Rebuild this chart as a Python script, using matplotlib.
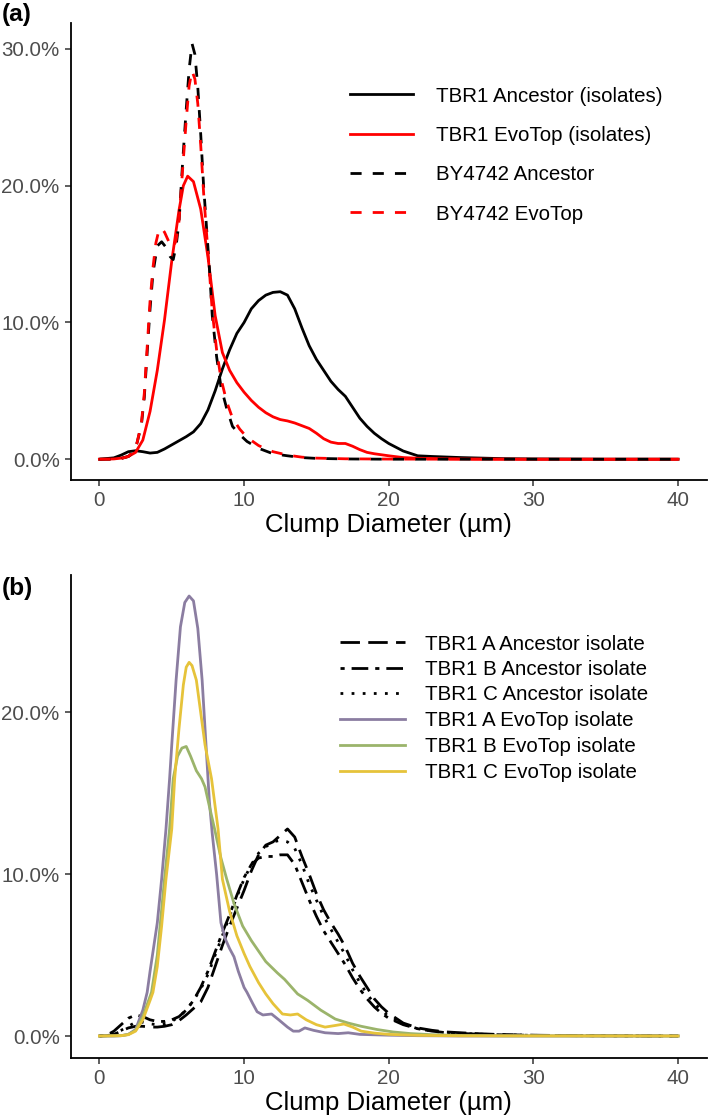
import matplotlib
matplotlib.use("Agg")
import matplotlib.pyplot as plt
from matplotlib.lines import Line2D
from matplotlib.ticker import FuncFormatter

plt.rcParams['font.family'] = ['Liberation Sans', 'DejaVu Sans']

# ---------------- Panel (a) data (percent of clumps) ----------------
a_tbr1_anc_x = [0, 1, 1.5, 2, 2.5, 3, 3.5, 4, 4.5, 5, 5.5, 6, 6.5, 7, 7.5, 8, 8.5, 9, 9.5, 10,
                10.5, 11, 11.5, 12, 12.5, 13, 13.5, 14, 14.5, 15, 15.5, 16, 16.5, 17, 17.5, 18,
                18.5, 19, 19.5, 20, 21, 22, 23, 25, 28, 30, 35, 40]
a_tbr1_anc_y = [0, 0.1, 0.3, 0.55, 0.62, 0.55, 0.45, 0.5, 0.75, 1.05, 1.35, 1.65, 2.0, 2.6, 3.6, 5.0,
                6.6, 8.0, 9.2, 10.0, 11.0, 11.6, 12.0, 12.2, 12.25, 12.0, 11.0, 9.6, 8.3, 7.3, 6.5,
                5.7, 5.1, 4.6, 3.8, 3.0, 2.4, 1.9, 1.5, 1.15, 0.6, 0.25, 0.2, 0.12, 0.04, 0.02, 0, 0]

a_tbr1_evo_x = [0, 1, 1.5, 2, 2.5, 3, 3.5, 4, 4.5, 5, 5.5, 5.8, 6.1, 6.5, 7, 7.5, 8, 8.5, 9, 9.5,
                10, 10.5, 11, 11.5, 12, 12.5, 13, 13.5, 14, 14.5, 15, 15.5, 16, 16.5, 17, 17.5,
                18, 18.5, 19, 20, 21, 22, 24, 26, 30, 40]
a_tbr1_evo_y = [0, 0.02, 0.08, 0.2, 0.5, 1.4, 3.5, 6.5, 10.2, 14.5, 18.2, 20.0, 20.7, 20.3, 18.3,
                14.8, 10.5, 7.8, 6.5, 5.6, 4.9, 4.3, 3.8, 3.4, 3.1, 2.9, 2.8, 2.65, 2.45, 2.25, 1.9,
                1.5, 1.25, 1.15, 1.15, 0.95, 0.7, 0.5, 0.4, 0.25, 0.12, 0.07, 0.03, 0.01, 0, 0]

a_by_anc_x = [0, 1, 1.5, 2, 2.3, 2.6, 2.9, 3.1, 3.3, 3.5, 3.7, 4.0, 4.3, 4.6, 4.9, 5.1, 5.3, 5.5,
              5.75, 6.0, 6.2, 6.4, 6.6, 6.8, 7.0, 7.2, 7.4, 7.6, 7.8, 8.1, 8.4, 8.8, 9.2, 9.7,
              10.2, 11, 11.5, 12, 13, 14, 15, 17, 20, 25, 30, 40]
a_by_anc_y = [0, 0, 0.05, 0.2, 0.5, 1.2, 2.5, 4.5, 7.8, 11.0, 13.6, 15.6, 15.9, 15.5, 14.8, 14.6,
              15.6, 17.3, 21.7, 25.6, 28.5, 30.4, 29.6, 27.2, 23.8, 20.0, 17.0, 14.0, 10.5, 7.5,
              5.3, 3.7, 2.4, 1.8, 1.3, 0.8, 0.6, 0.4, 0.25, 0.12, 0.06, 0.02, 0, 0, 0, 0]

a_by_evo_x = [0, 1, 1.5, 2, 2.3, 2.6, 2.9, 3.1, 3.3, 3.5, 3.7, 3.9, 4.1, 4.3, 4.5, 4.8, 5.1, 5.3,
              5.5, 5.75, 6.0, 6.2, 6.4, 6.6, 6.8, 7.0, 7.2, 7.4, 7.6, 7.8, 8.1, 8.4, 8.8, 9.2,
              9.7, 10.2, 11, 11.5, 12, 13, 14, 15, 17, 20, 25, 30, 40]
a_by_evo_y = [0, 0, 0.05, 0.2, 0.5, 1.2, 2.6, 4.8, 8.2, 11.6, 14.0, 15.8, 16.7, 16.9, 16.6, 15.9,
              15.5, 16.0, 17.4, 21.2, 24.8, 27.3, 28.4, 27.8, 26.0, 23.0, 19.5, 16.6, 13.8, 10.8,
              8.0, 5.9, 4.2, 3.0, 2.2, 1.6, 1.0, 0.75, 0.55, 0.3, 0.15, 0.08, 0.03, 0.01, 0, 0, 0]

a_labels = ["TBR1 Ancestor (isolates)", "TBR1 EvoTop (isolates)", "BY4742 Ancestor", "BY4742 EvoTop"]

# ---------------- Panel (b) data ----------------
b_anc_x = [0, 0.5, 1, 1.5, 2, 2.5, 3, 3.5, 4, 4.5, 5, 5.5, 6, 6.5, 7, 7.5, 8, 8.5, 9, 9.5, 10,
           10.5, 11, 11.5, 12, 12.5, 13, 13.5, 14, 14.5, 15, 15.5, 16, 16.5, 17, 17.5, 18, 18.5,
           19, 19.5, 20, 21, 22, 23, 24, 26, 28, 30, 33, 40]
b_anc_a_y = [0, 0.02, 0.1, 0.3, 0.5, 0.6, 0.6, 0.55, 0.55, 0.6, 0.7, 0.95, 1.3, 1.7, 2.1, 3.0,
             4.3, 5.6, 6.8, 7.9, 9.0, 10.2, 11.2, 11.8, 12.0, 12.4, 12.8, 12.3, 11.1, 10.0, 8.8,
             7.8, 7.0, 6.3, 5.5, 4.5, 3.7, 3.0, 2.3, 1.8, 1.4, 0.8, 0.5, 0.35, 0.25, 0.15, 0.08,
             0.05, 0.02, 0]
b_anc_b_y = [0, 0.05, 0.3, 0.7, 1.1, 1.3, 1.2, 1.0, 0.9, 0.9, 1.0, 1.2, 1.6, 2.2, 3.0, 4.0, 5.2,
             6.4, 7.5, 8.7, 9.8, 10.6, 11.0, 11.1, 11.1, 11.2, 11.2, 10.6, 9.5, 8.4, 7.4, 6.5, 5.8,
             5.1, 4.4, 3.6, 2.9, 2.3, 1.8, 1.4, 1.1, 0.7, 0.45, 0.3, 0.2, 0.12, 0.07, 0.04, 0.02, 0]
b_anc_c_y = [0, 0.03, 0.15, 0.35, 0.6, 0.85, 0.85, 0.75, 0.7, 0.75, 0.9, 1.2, 1.6, 2.2, 2.9, 3.8,
             5.0, 6.2, 7.4, 8.6, 9.7, 10.6, 11.3, 11.7, 12.0, 12.1, 12.0, 11.6, 10.6, 9.4, 8.4,
             7.4, 6.6, 5.8, 5.0, 4.1, 3.3, 2.6, 2.0, 1.6, 1.2, 0.75, 0.45, 0.3, 0.2, 0.12, 0.07,
             0.04, 0.02, 0]

b_evo_a_x = [0, 1, 1.5, 2, 2.5, 3, 3.3, 3.5, 4, 4.3, 4.6, 4.85, 5.0, 5.3, 5.6, 5.9, 6.2, 6.5, 6.8,
             7.1, 7.4, 7.6, 7.8, 8.1, 8.4, 8.7, 9.0, 9.3, 9.6, 10.0, 10.2, 10.6, 10.9, 11.3, 11.9,
             12.4, 13.0, 13.4, 13.8, 14.2, 14.8, 15.6, 16.5, 17.2, 18, 20, 22, 25, 40]
b_evo_a_y = [0, 0, 0.02, 0.1, 0.4, 1.6, 2.7, 4.0, 7.0, 9.7, 12.8, 15.9, 18.0, 22.0, 25.3, 26.8,
             27.2, 26.9, 25.2, 22.0, 17.5, 14.5, 12.5, 10.0, 7.0, 6.0, 5.4, 4.9, 4.0, 3.0, 2.7,
             2.0, 1.5, 1.3, 1.36, 1.0, 0.55, 0.3, 0.3, 0.5, 0.35, 0.2, 0.15, 0.2, 0.1, 0.05, 0.02,
             0, 0]

b_evo_b_x = [0, 1.5, 2, 2.5, 3, 3.6, 4, 4.5, 4.85, 5.1, 5.4, 5.7, 6.0, 6.3, 6.7, 7.06, 7.3, 7.6,
             7.96, 8.4, 8.8, 9.3, 9.9, 10.5, 11.5, 12.3, 12.8, 13.1, 13.7, 14.4, 15.3, 16.3, 17.2,
             18.1, 19.2, 20.3, 21.5, 23, 25, 28, 40]
b_evo_b_y = [0, 0.02, 0.1, 0.35, 1.2, 2.7, 5.0, 9.7, 12.8, 15.9, 17.3, 17.8, 17.9, 17.3, 16.4,
             15.9, 15.4, 14.2, 12.8, 11.0, 9.7, 8.2, 6.8, 5.9, 4.6, 3.9, 3.5, 3.2, 2.6, 2.2, 1.6,
             1.05, 0.8, 0.6, 0.4, 0.25, 0.15, 0.08, 0.03, 0.01, 0]

b_evo_c_x = [0, 1.5, 2, 2.5, 3, 3.5, 3.7, 4, 4.3, 4.6, 5.0, 5.2, 5.5, 5.8, 6.0, 6.2, 6.4, 6.7,
             7.0, 7.3, 7.75, 8.2, 8.5, 9.0, 9.5, 10.0, 10.4, 11.0, 11.5, 12, 12.65, 13.2, 13.7,
             14.3, 15, 15.6, 16.3, 16.9, 17.5, 18.1, 19, 20, 22, 25, 40]
b_evo_c_y = [0, 0.02, 0.08, 0.3, 1.0, 2.2, 2.7, 4.3, 6.8, 9.7, 12.8, 15.9, 19.0, 21.7, 22.8, 23.1,
             22.9, 22.0, 20.0, 18.0, 15.9, 12.8, 9.7, 7.7, 6.2, 5.1, 4.3, 3.3, 2.6, 2.0, 1.36, 1.3,
             1.36, 1.0, 0.7, 0.55, 0.65, 0.74, 0.55, 0.3, 0.18, 0.1, 0.04, 0.01, 0]

b_labels = ["TBR1 A Ancestor isolate", "TBR1 B Ancestor isolate", "TBR1 C Ancestor isolate",
            "TBR1 A EvoTop isolate", "TBR1 B EvoTop isolate", "TBR1 C EvoTop isolate"]

x_ticks = [0, 10, 20, 30, 40]
a_yticks = [0, 10, 20, 30]
b_yticks = [0, 10, 20]
x_title = "Clump Diameter (µm)"

# ---------------- styles ----------------
LW = 2.0
SOLID = "-"
DASHED = (0, (4, 4))
LONGDASH = (0, (7, 3))
DOTDASH = (0, (1.5, 2.5, 6, 2.5))
DOTTED = (0, (1, 3))
PURPLE = "#8B7DA1"
GREEN = "#9BB46B"
YELLOW = "#E6C33A"

W, H = 709, 1118
fig = plt.figure(figsize=(W / 100, H / 100), dpi=100)


def fx(px):
    return px / W


def fy(py):
    return 1 - py / H


ax_a = fig.add_axes([fx(70.5), fy(480), fx(707) - fx(70.5), fy(23) - fy(480)])
ax_b = fig.add_axes([fx(70.5), fy(1058), fx(707) - fx(70.5), fy(575) - fy(1058)])

a_series = [
    (a_tbr1_anc_x, a_tbr1_anc_y, "black", SOLID),
    (a_tbr1_evo_x, a_tbr1_evo_y, "#FF0000", SOLID),
    (a_by_anc_x, a_by_anc_y, "black", DASHED),
    (a_by_evo_x, a_by_evo_y, "#FF0000", DASHED),
]
for (xs, ys, c, ls), lab in zip(a_series, a_labels):
    ax_a.plot(xs, ys, color=c, linestyle=ls, lw=LW, label=lab, solid_joinstyle='round')

b_series = [
    (b_anc_x, b_anc_a_y, "black", LONGDASH),
    (b_anc_x, b_anc_b_y, "black", DOTDASH),
    (b_anc_x, b_anc_c_y, "black", DOTTED),
    (b_evo_a_x, b_evo_a_y, PURPLE, SOLID),
    (b_evo_b_x, b_evo_b_y, GREEN, SOLID),
    (b_evo_c_x, b_evo_c_y, YELLOW, SOLID),
]
for (xs, ys, c, ls), lab in zip(b_series, b_labels):
    ax_b.plot(xs, ys, color=c, linestyle=ls, lw=LW, label=lab, solid_joinstyle='round')

pct = FuncFormatter(lambda v, p: f"{v:.1f}%")
for ax, yt, ylim in [(ax_a, a_yticks, (-1.52, 31.9)), (ax_b, b_yticks, (-1.36, 28.5))]:
    ax.set_xlim(-2, 42)
    ax.set_ylim(*ylim)
    ax.set_xticks(x_ticks)
    ax.set_yticks(yt)
    ax.yaxis.set_major_formatter(pct)
    for s in ["top", "right"]:
        ax.spines[s].set_visible(False)
    for s in ["left", "bottom"]:
        ax.spines[s].set_linewidth(1.3)
        ax.spines[s].set_color("black")
    ax.tick_params(axis="both", length=4.3, width=1.1, color="#333333",
                   labelsize=14.8, labelcolor="#4D4D4D", pad=3.5)
    ax.set_xlabel(x_title, fontsize=18.5, labelpad=2)
    ax.patch.set_alpha(0)

# ---------------- legends (manual keys) ----------------
def legend(series, labels, x0, x1, xt, rows):
    for (xs, ys, c, ls), lab, ry in zip(series, labels, rows):
        fig.add_artist(Line2D([fx(x0), fx(x1)], [fy(ry), fy(ry)], transform=fig.transFigure,
                              color=c, linestyle=ls, lw=LW))
        fig.text(fx(xt), fy(ry), lab, fontsize=14.8, va="center_baseline", ha="left", color="black")

legend(a_series, a_labels, 350, 413, 436, [94, 133.5, 173, 212])
legend(b_series, b_labels, 340, 405, 425, [642, 667.5, 693, 719, 745, 771])

fig.text(fx(2), fy(15), "(a)", fontsize=17.6, fontweight="bold", va="center", ha="left")
fig.text(fx(2), fy(588), "(b)", fontsize=17.6, fontweight="bold", va="center", ha="left")

fig.savefig("out.png", dpi=100)
